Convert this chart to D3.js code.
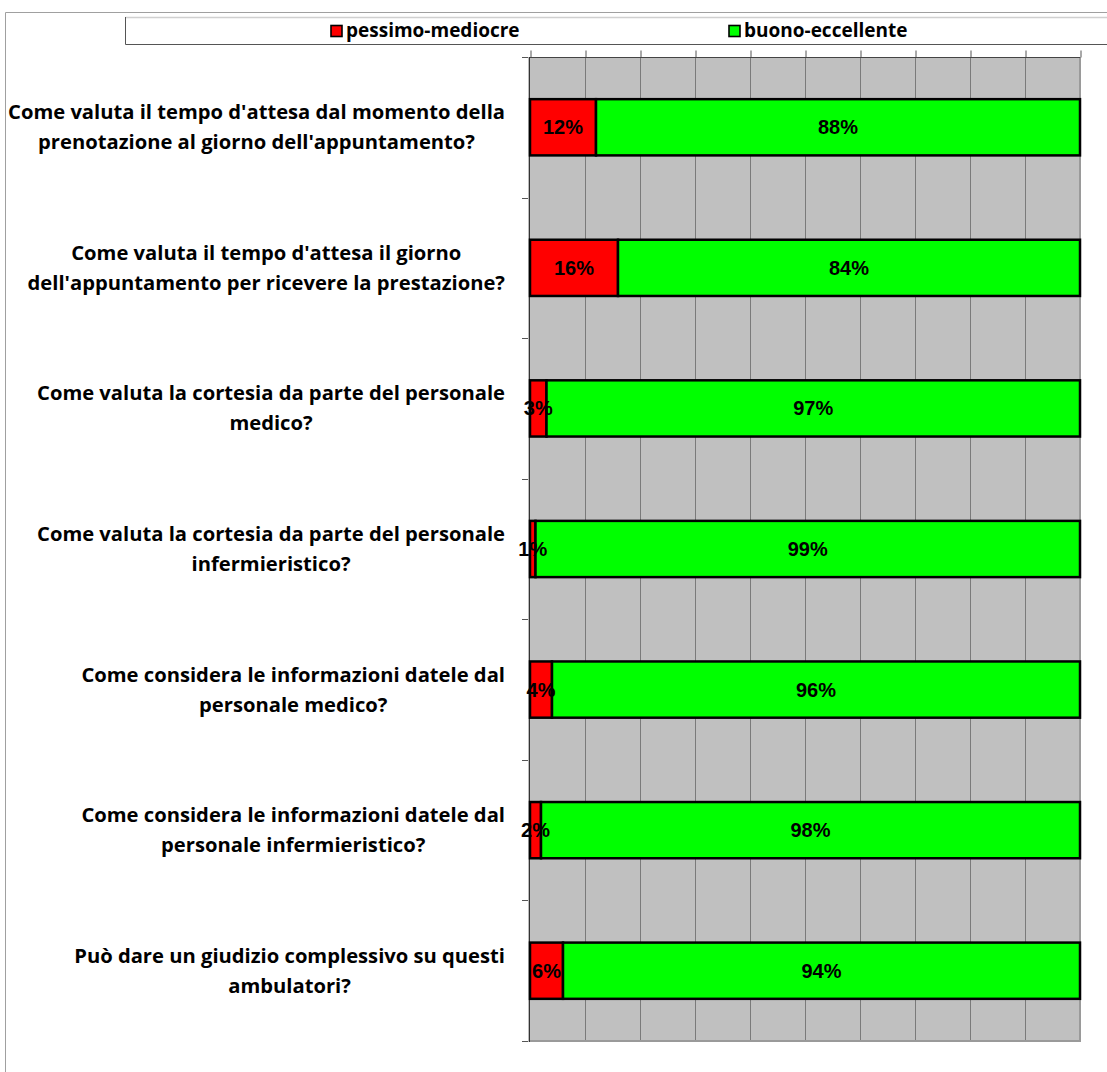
<!DOCTYPE html>
<html>
<head>
<meta charset="utf-8">
<script src="https://cdn.jsdelivr.net/npm/d3@7"></script>
<style>
  html, body { margin: 0; padding: 0; background: #fff; }
  svg { display: block; }
</style>
</head>
<body>
<svg id="chart" width="1107" height="1072"></svg>
<script>
// Survey questions, each wrapped onto two lines
const questions = [
  ["Come valuta il tempo d'attesa dal momento della", "prenotazione al giorno dell'appuntamento?"],
  ["Come valuta il tempo d'attesa il giorno", "dell'appuntamento per ricevere la prestazione?"],
  ["Come valuta la cortesia da parte del personale", "medico?"],
  ["Come valuta la cortesia da parte del personale", "infermieristico?"],
  ["Come considera le informazioni datele dal", "personale medico?"],
  ["Come considera le informazioni datele dal", "personale infermieristico?"],
  ["Può dare un giudizio complessivo su questi", "ambulatori?"]
];
// Share of answers (%) per question
const pessimoMediocre = [12, 16, 3, 1, 4, 2, 6];
const buonoEccellente = [88, 84, 97, 99, 96, 98, 94];
const seriesNames = ["pessimo-mediocre", "buono-eccellente"];
const seriesColors = ["#ff0000", "#00ff00"];
const valueTicks = [0, 10, 20, 30, 40, 50, 60, 70, 80, 90, 100];

const svg = d3.select("#chart");
const labelFont = "'Open Sans', Lato, sans-serif";

// Chart frame
svg.append("path")
  .attr("d", "M5.5,1072 V12.5 H1107")
  .attr("fill", "none").attr("stroke", "#a0a0a0").attr("stroke-width", 1);

// Legend box
const legend = svg.append("g");
legend.append("rect").attr("x", 125.5).attr("y", 17.5).attr("width", 1000).attr("height", 27)
  .attr("fill", "#fff").attr("stroke", "none");
legend.append("path").attr("d", "M125.5,17.5 H1107").attr("stroke", "#d0d0d0").attr("stroke-width", 1.5).attr("fill", "none");
legend.append("path").attr("d", "M125.5,17 V44.5 H1107").attr("stroke", "#555").attr("stroke-width", 1).attr("fill", "none");
const legendX = [330, 728];
seriesNames.forEach((name, i) => {
  legend.append("rect").attr("x", legendX[i] + 1).attr("y", 25.5).attr("width", 11).attr("height", 11)
    .attr("fill", seriesColors[i]).attr("stroke", "#000").attr("stroke-width", 1.6);
  legend.append("text").attr("x", legendX[i] + 16).attr("y", 37)
    .attr("font-family", labelFont).attr("font-weight", "bold")
    .attr("font-size", 19).attr("fill", "#000").text(name);
});

// Plot area
const plot = { left: 530, right: 1080, top: 57, bottom: 1041 };
const x = d3.scaleLinear().domain([0, 100]).range([plot.left, plot.right]);
const y = d3.scaleBand().domain(d3.range(questions.length))
  .range([plot.top, plot.bottom]).paddingInner(0.6).paddingOuter(0.3);
const step = y.step();

svg.append("rect").attr("x", plot.left).attr("y", plot.top)
  .attr("width", plot.right - plot.left).attr("height", plot.bottom - plot.top)
  .attr("fill", "#c0c0c0");

// Vertical gridlines
svg.append("g").selectAll("line").data(valueTicks.slice(1, -1)).join("line")
  .attr("x1", d => Math.round(x(d)) + 0.5).attr("x2", d => Math.round(x(d)) + 0.5)
  .attr("y1", plot.top).attr("y2", plot.bottom)
  .attr("stroke", "#7a7a7a").attr("stroke-width", 1);

// Plot shadow edges (right and bottom)
svg.append("path")
  .attr("d", `M${plot.right},${plot.top} V${plot.bottom} H${plot.left}`)
  .attr("fill", "none").attr("stroke", "#9a9a9a").attr("stroke-width", 2);

// Top value axis: line + tick marks, no labels
const topAxis = d3.axisTop(x).tickValues(valueTicks).tickSize(7).tickFormat("");
const gTop = svg.append("g").attr("transform", `translate(0.5,${plot.top + 0.5})`).call(topAxis);
gTop.select(".domain").remove();
gTop.selectAll(".tick line").attr("stroke", "#555");
svg.append("line").attr("x1", plot.left - 8).attr("x2", plot.right)
  .attr("y1", plot.top + 0.5).attr("y2", plot.top + 0.5).attr("stroke", "#444");

// Left category axis: boundary ticks
const boundaries = d3.range(questions.length + 1).map(i => plot.top + i * step);
svg.append("g").selectAll("line").data(boundaries).join("line")
  .attr("x1", plot.left - 8).attr("x2", plot.left)
  .attr("y1", d => Math.round(d) + 0.5).attr("y2", d => Math.round(d) + 0.5)
  .attr("stroke", "#555");
svg.append("line").attr("x1", plot.left - 0.5).attr("x2", plot.left - 0.5)
  .attr("y1", plot.top).attr("y2", plot.bottom + 1).attr("stroke", "#333");
svg.append("line").attr("x1", plot.left - 1.5).attr("x2", plot.left - 1.5)
  .attr("y1", plot.top).attr("y2", plot.bottom + 1).attr("stroke", "#bbb");

// Stacked bars
const stackData = questions.map((q, i) => ({ i, a: pessimoMediocre[i], b: buonoEccellente[i] }));
const stacked = d3.stack().keys(["a", "b"])(stackData);
const bars = svg.append("g");
stacked.forEach((layer, k) => {
  bars.append("g").selectAll("rect").data(layer).join("rect")
    .attr("x", d => x(d[0]))
    .attr("y", d => y(d.data.i))
    .attr("width", d => x(d[1]) - x(d[0]))
    .attr("height", y.bandwidth())
    .attr("fill", seriesColors[k])
    .attr("stroke", "#000").attr("stroke-width", 2.5);
});

// Value labels centred on each segment
stacked.forEach((layer) => {
  bars.append("g").selectAll("text").data(layer).join("text")
    .attr("x", d => (x(d[0]) + x(d[1])) / 2)
    .attr("y", d => y(d.data.i) + y.bandwidth() / 2 + 7)
    .attr("text-anchor", "middle")
    .attr("font-family", "'Liberation Sans', Arial, sans-serif")
    .attr("font-weight", "bold").attr("font-size", 20).attr("fill", "#000")
    .text(d => (d[1] - d[0]) + "%");
});

// Category labels: two centred lines, block right-aligned to the axis
const labelRight = 505;
const gLabels = svg.append("g");
questions.forEach((lines, i) => {
  const cy = y(i) + y.bandwidth() / 2;
  const t = gLabels.append("text")
    .attr("font-family", labelFont)
    .attr("font-weight", "bold").attr("font-size", 20.2).attr("fill", "#000")
    .attr("text-anchor", "middle");
  const spans = lines.map((s, j) => t.append("tspan").attr("y", cy - 8 + j * 30).text(s));
  const maxW = d3.max(spans, s => s.node().getComputedTextLength());
  spans.forEach(s => s.attr("x", labelRight - maxW / 2));
});
</script>
</body>
</html>
